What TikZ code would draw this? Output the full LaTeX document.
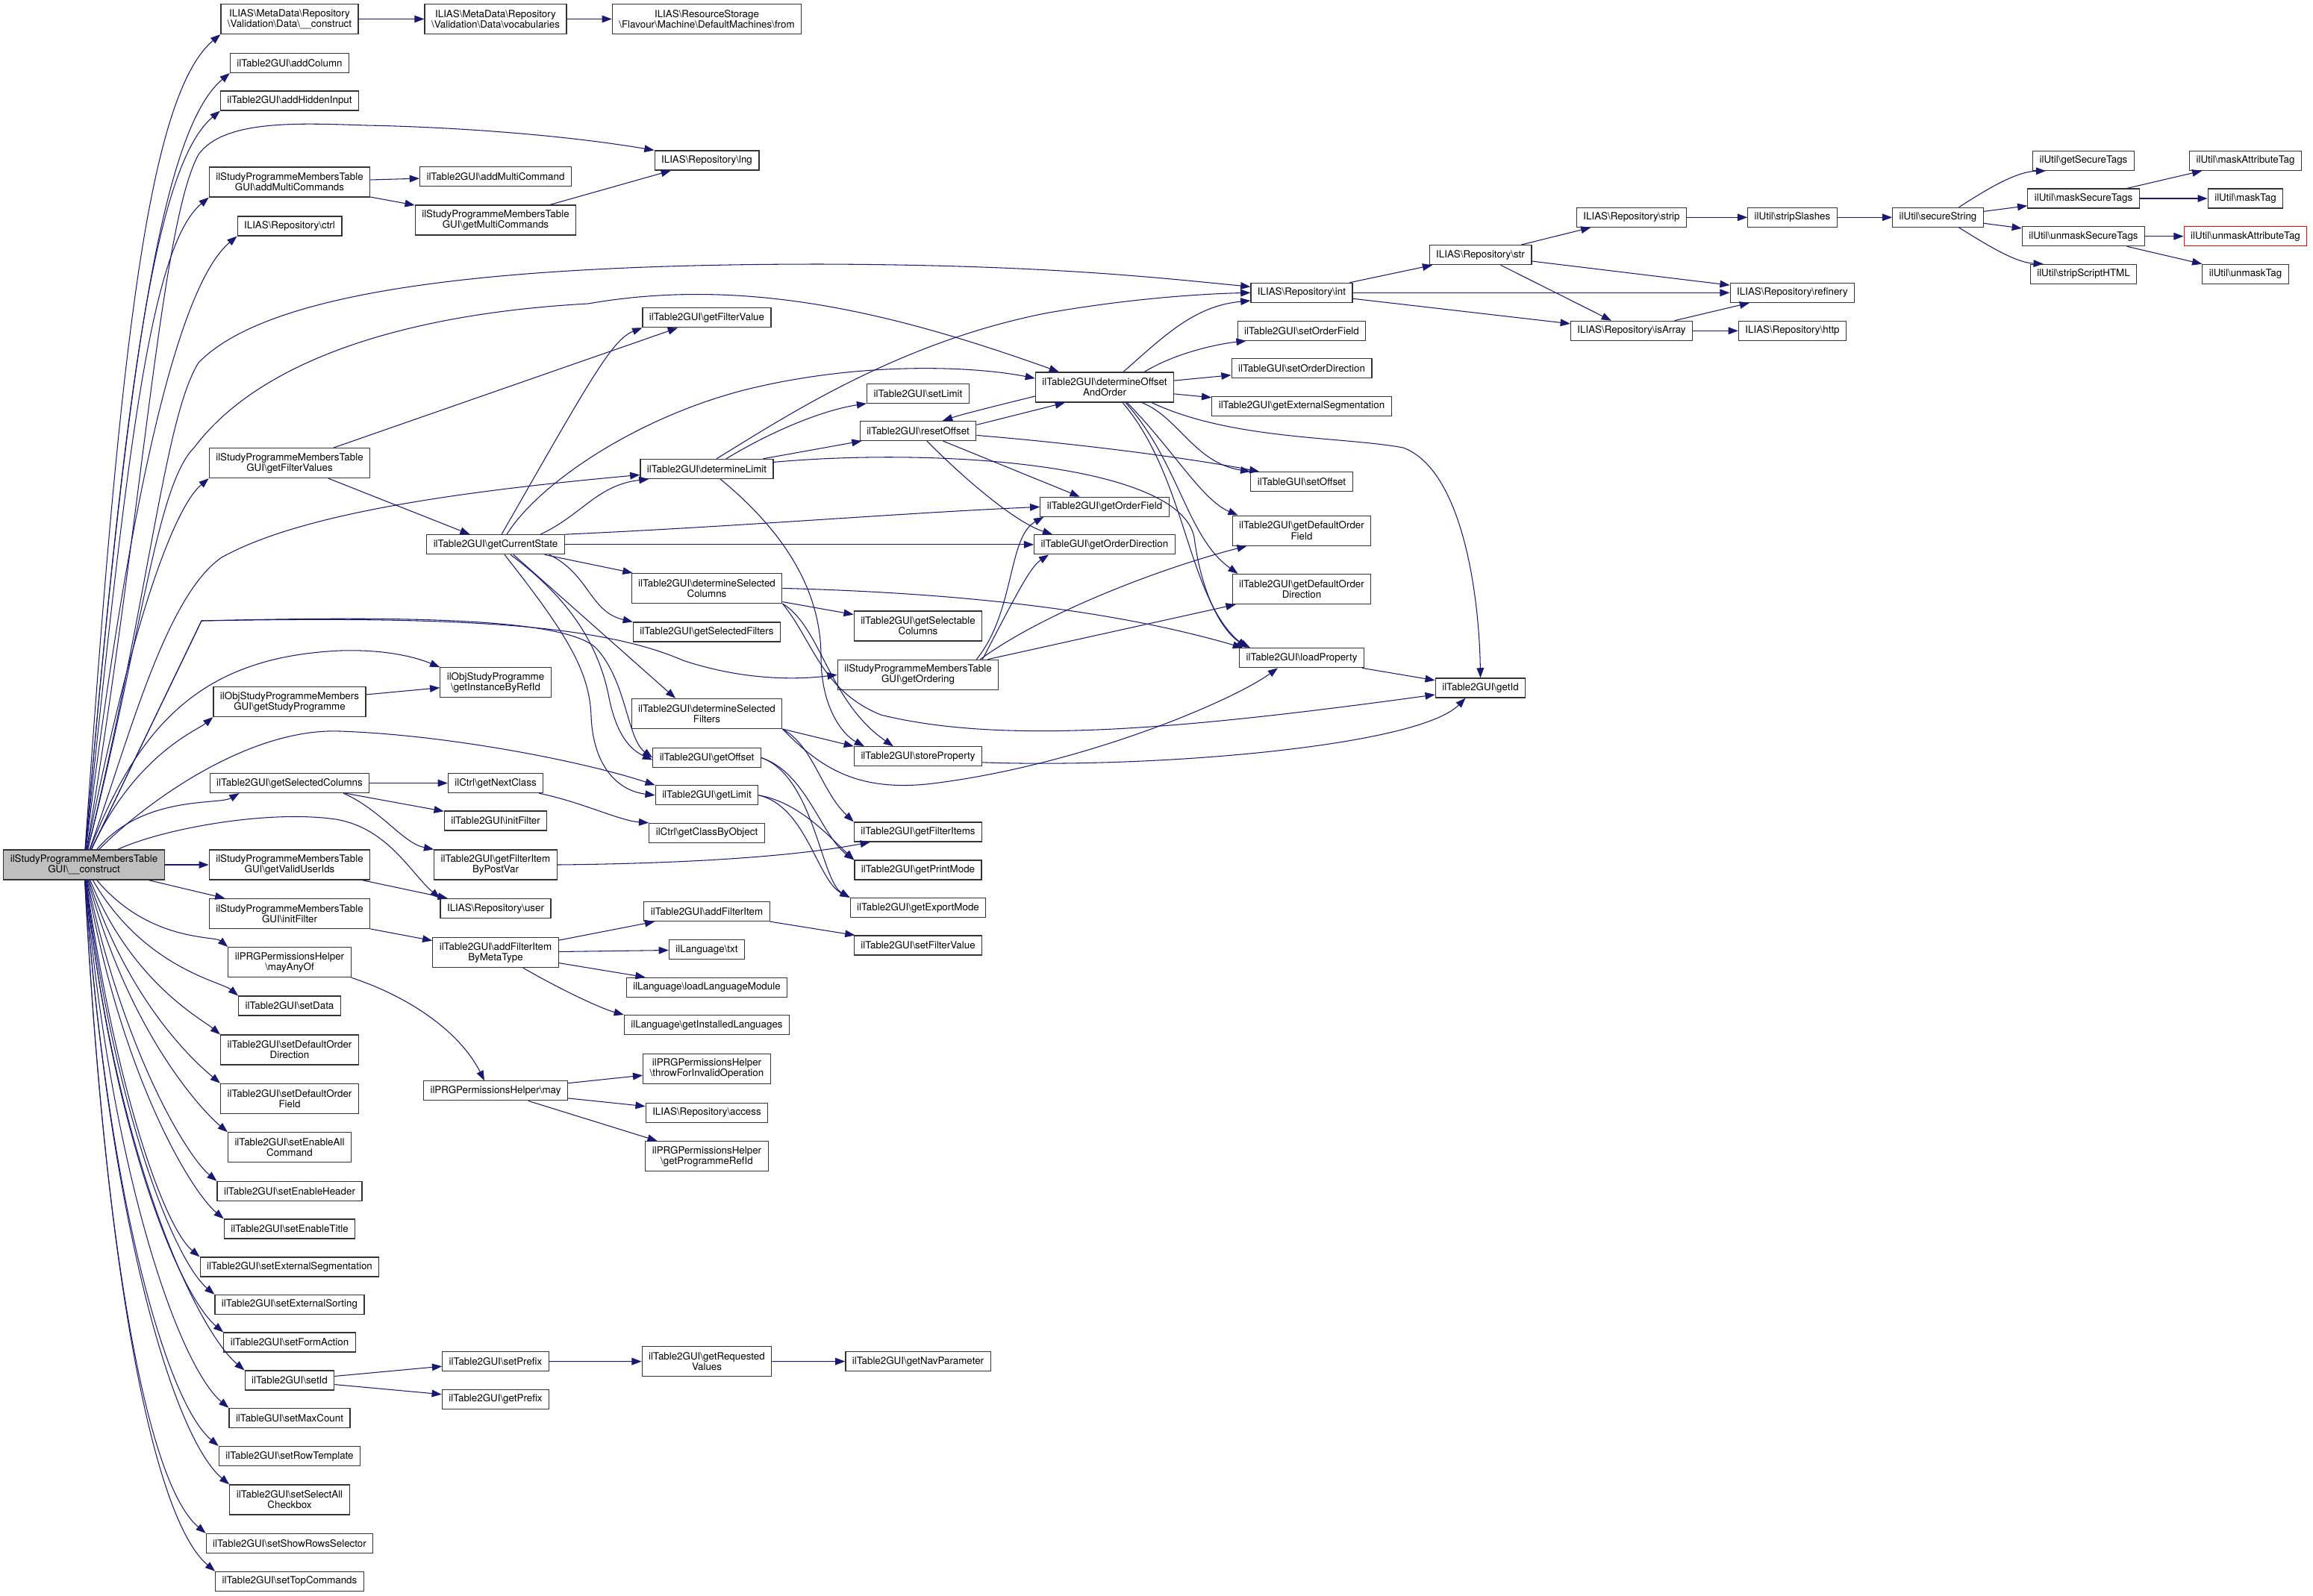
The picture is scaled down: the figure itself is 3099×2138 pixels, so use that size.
\documentclass[tikz,border=0pt]{standalone}
\usepackage{fontspec}
\newfontfamily\heros{TeX Gyre Heros}
\usetikzlibrary{arrows.meta,calc}
\definecolor{edgeblue}{RGB}{25,25,112}
\newcommand{\bsh}{\textbackslash}

\begin{document}
\begin{tikzpicture}[x=0.02cm,y=0.02cm,
      fnode/.style={draw=black!80, line width=0.7pt, fill=white, font=\heros\fontsize{7.6}{8}\selectfont,
        align=center, inner xsep=0.18cm, inner ysep=0.1cm, minimum height=0.52cm},
      fnode2/.style={fnode, minimum height=0.8cm},
      mainnode/.style={fnode2, fill=black!25},
      call/.style={draw=edgeblue, line width=0.6pt, -{Triangle[length=7.5pt,width=5.5pt]}},
      fanup/.style={out=#1, in=-140, out looseness=1.5, in looseness=0.3},
      fandown/.style={out=#1, in=140, out looseness=1.4, in looseness=0.3}]
   \useasboundingbox (0,0) rectangle (3099,-2138);

   \node[mainnode] (main) at (112.5,-1159) {ilStudyProgrammeMembersTable\\GUI\bsh\_\_construct};

   \node[fnode2] (dataConstruct) at (388,-25.5) {ILIAS\bsh{}MetaData\bsh{}Repository\\\bsh{}Validation\bsh{}Data\bsh\_\_construct};
   \node[fnode] (addColumn) at (388,-84.4) {ilTable2GUI\bsh{}addColumn};
   \node[fnode] (addHiddenInput) at (388,-135) {ilTable2GUI\bsh{}addHiddenInput};
   \node[fnode2] (addMultiCommands) at (388,-244) {ilStudyProgrammeMembersTable\\GUI\bsh{}addMultiCommands};
   \node[fnode] (ctrl) at (388,-303) {ILIAS\bsh{}Repository\bsh{}ctrl};
   \node[fnode2] (getFilterValues) at (388,-620.6) {ilStudyProgrammeMembersTable\\GUI\bsh{}getFilterValues};
   \node[fnode2] (getStudyProgramme) at (388,-940.5) {ilObjStudyProgrammeMembers\\GUI\bsh{}getStudyProgramme};
   \node[fnode] (getSelectedColumns) at (388,-1049.5) {ilTable2GUI\bsh{}getSelectedColumns};
   \node[fnode2] (getValidUserIds) at (388,-1159) {ilStudyProgrammeMembersTable\\GUI\bsh{}getValidUserIds};
   \node[fnode2] (spmInitFilter) at (388,-1224.5) {ilStudyProgrammeMembersTable\\GUI\bsh{}initFilter};
   \node[fnode2] (mayAnyOf) at (388,-1289.6) {ilPRGPermissionsHelper\\\bsh{}mayAnyOf};
   \node[fnode] (setData) at (388,-1348) {ilTable2GUI\bsh{}setData};
   \node[fnode2] (setDefaultOrderDirection) at (388,-1407) {ilTable2GUI\bsh{}setDefaultOrder\\Direction};
   \node[fnode2] (setDefaultOrderField) at (388,-1472.3) {ilTable2GUI\bsh{}setDefaultOrder\\Field};
   \node[fnode2] (setEnableAllCommand) at (388,-1537.8) {ilTable2GUI\bsh{}setEnableAll\\Command};
   \node[fnode] (setEnableHeader) at (388,-1596.5) {ilTable2GUI\bsh{}setEnableHeader};
   \node[fnode] (setEnableTitle) at (388,-1647) {ilTable2GUI\bsh{}setEnableTitle};
   \node[fnode] (setExternalSegmentation) at (388,-1698) {ilTable2GUI\bsh{}setExternalSegmentation};
   \node[fnode] (setExternalSorting) at (388,-1748.4) {ilTable2GUI\bsh{}setExternalSorting};
   \node[fnode] (setFormAction) at (388,-1799) {ilTable2GUI\bsh{}setFormAction};
   \node[fnode] (setId) at (388,-1850) {ilTable2GUI\bsh{}setId};
   \node[fnode] (setMaxCount) at (388,-1900.4) {ilTableGUI\bsh{}setMaxCount};
   \node[fnode] (setRowTemplate) at (388,-1951.5) {ilTable2GUI\bsh{}setRowTemplate};
   \node[fnode2] (setSelectAllCheckbox) at (388,-2010) {ilTable2GUI\bsh{}setSelectAll\\Checkbox};
   \node[fnode] (setShowRowsSelector) at (388,-2068.4) {ilTable2GUI\bsh{}setShowRowsSelector};
   \node[fnode] (setTopCommands) at (388,-2119.3) {ilTable2GUI\bsh{}setTopCommands};

   \node[fnode2] (vocabularies) at (664,-25.5) {ILIAS\bsh{}MetaData\bsh{}Repository\\\bsh{}Validation\bsh{}Data\bsh{}vocabularies};
   \node[fnode] (addMultiCommand) at (664,-236.3) {ilTable2GUI\bsh{}addMultiCommand};
   \node[fnode2] (getMultiCommands) at (664,-295) {ilStudyProgrammeMembersTable\\GUI\bsh{}getMultiCommands};
   \node[fnode] (getCurrentState) at (664,-729.8) {ilTable2GUI\bsh{}getCurrentState};
   \node[fnode2] (getInstanceByRefId) at (664,-914.7) {ilObjStudyProgramme\\\bsh{}getInstanceByRefId};
   \node[fnode] (getNextClass) at (664,-1049.5) {ilCtrl\bsh{}getNextClass};
   \node[fnode] (initFilter) at (664,-1100) {ilTable2GUI\bsh{}initFilter};
   \node[fnode2] (getFilterItemByPostVar) at (664,-1159) {ilTable2GUI\bsh{}getFilterItem\\ByPostVar};
   \node[fnode] (user) at (664,-1217.5) {ILIAS\bsh{}Repository\bsh{}user};
   \node[fnode2] (addFilterItemByMetaType) at (664,-1276.6) {ilTable2GUI\bsh{}addFilterItem\\ByMetaType};
   \node[fnode] (may) at (664,-1461.8) {ilPRGPermissionsHelper\bsh{}may};
   \node[fnode] (setPrefix) at (664,-1824.5) {ilTable2GUI\bsh{}setPrefix};
   \node[fnode] (getPrefix) at (664,-1875.3) {ilTable2GUI\bsh{}getPrefix};

   \node[fnode2] (from) at (947,-25.5) {ILIAS\bsh{}ResourceStorage\\\bsh{}Flavour\bsh{}Machine\bsh{}DefaultMachines\bsh{}from};
   \node[fnode] (lng) at (947,-215) {ILIAS\bsh{}Repository\bsh{}lng};
   \node[fnode] (getFilterValue) at (947,-425.8) {ilTable2GUI\bsh{}getFilterValue};
   \node[fnode] (determineLimit) at (947,-628.4) {ilTable2GUI\bsh{}determineLimit};
   \node[fnode2] (determineSelectedColumns) at (947,-788.4) {ilTable2GUI\bsh{}determineSelected\\Columns};
   \node[fnode] (getSelectedFilters) at (947,-847) {ilTable2GUI\bsh{}getSelectedFilters};
   \node[fnode2] (determineSelectedFilters) at (947,-956.4) {ilTable2GUI\bsh{}determineSelected\\Filters};
   \node[fnode] (getOffset) at (947,-1015.5) {ilTable2GUI\bsh{}getOffset};
   \node[fnode] (getLimit) at (947,-1065.8) {ilTable2GUI\bsh{}getLimit};
   \node[fnode] (getClassByObject) at (947,-1116.3) {ilCtrl\bsh{}getClassByObject};
   \node[fnode] (addFilterItem) at (947,-1221.5) {ilTable2GUI\bsh{}addFilterItem};
   \node[fnode] (txt) at (947,-1272.8) {ilLanguage\bsh{}txt};
   \node[fnode] (loadLanguageModule) at (947,-1323.3) {ilLanguage\bsh{}loadLanguageModule};
   \node[fnode] (getInstalledLanguages) at (947,-1373.6) {ilLanguage\bsh{}getInstalledLanguages};
   \node[fnode2] (throwForInvalidOperation) at (947,-1432.2) {ilPRGPermissionsHelper\\\bsh{}throwForInvalidOperation};
   \node[fnode] (access) at (947,-1491.2) {ILIAS\bsh{}Repository\bsh{}access};
   \node[fnode2] (getProgrammeRefId) at (947,-1549.7) {ilPRGPermissionsHelper\\\bsh{}getProgrammeRefId};
   \node[fnode2] (getRequestedValues) at (947,-1824.7) {ilTable2GUI\bsh{}getRequested\\Values};

   \node[fnode] (setLimit) at (1230,-527.2) {ilTable2GUI\bsh{}setLimit};
   \node[fnode] (resetOffset) at (1230,-577.4) {ilTable2GUI\bsh{}resetOffset};
   \node[fnode2] (getSelectableColumns) at (1230,-839) {ilTable2GUI\bsh{}getSelectable\\Columns};
   \node[fnode2] (getOrdering) at (1230,-904.3) {ilStudyProgrammeMembersTable\\GUI\bsh{}getOrdering};
   \node[fnode] (storeProperty) at (1230,-1013.8) {ilTable2GUI\bsh{}storeProperty};
   \node[fnode] (getFilterItems) at (1230,-1115) {ilTable2GUI\bsh{}getFilterItems};
   \node[fnode] (getPrintMode) at (1230,-1166) {ilTable2GUI\bsh{}getPrintMode};
   \node[fnode] (getExportMode) at (1230,-1216.5) {ilTable2GUI\bsh{}getExportMode};
   \node[fnode] (setFilterValue) at (1230,-1267) {ilTable2GUI\bsh{}setFilterValue};
   \node[fnode] (getNavParameter) at (1230,-1824.5) {ilTable2GUI\bsh{}getNavParameter};

   \node[fnode2] (determineOffsetAndOrder) at (1480,-519) {ilTable2GUI\bsh{}determineOffset\\AndOrder};
   \node[fnode] (getOrderField) at (1480,-679.3) {ilTable2GUI\bsh{}getOrderField};
   \node[fnode] (getOrderDirection) at (1480,-729.8) {ilTableGUI\bsh{}getOrderDirection};

   \node[fnode] (int) at (1744,-392.3) {ILIAS\bsh{}Repository\bsh{}int};
   \node[fnode] (setOrderField) at (1744,-443.2) {ilTable2GUI\bsh{}setOrderField};
   \node[fnode] (setOrderDirection) at (1744,-493.7) {ilTableGUI\bsh{}setOrderDirection};
   \node[fnode] (getExternalSegmentation) at (1744,-544.3) {ilTable2GUI\bsh{}getExternalSegmentation};
   \node[fnode] (setOffset) at (1744,-645.7) {ilTableGUI\bsh{}setOffset};
   \node[fnode2] (getDefaultOrderField) at (1744,-711.1) {ilTable2GUI\bsh{}getDefaultOrder\\Field};
   \node[fnode2] (getDefaultOrderDirection) at (1744,-789.5) {ilTable2GUI\bsh{}getDefaultOrder\\Direction};
   \node[fnode] (loadProperty) at (1744,-881.7) {ilTable2GUI\bsh{}loadProperty};

   \node[fnode] (str) at (1983.5,-341.7) {ILIAS\bsh{}Repository\bsh{}str};
   \node[fnode] (getId) at (1983.5,-922) {ilTable2GUI\bsh{}getId};
   \node[fnode] (strip) at (2186,-291.3) {ILIAS\bsh{}Repository\bsh{}strip};
   \node[fnode] (isArray) at (2186,-443.3) {ILIAS\bsh{}Repository\bsh{}isArray};
   \node[fnode] (stripSlashes) at (2401.5,-291.3) {ilUtil\bsh{}stripSlashes};
   \node[fnode] (refinery) at (2401.5,-392.3) {ILIAS\bsh{}Repository\bsh{}refinery};
   \node[fnode] (http) at (2401.5,-443.3) {ILIAS\bsh{}Repository\bsh{}http};
   \node[fnode] (secureString) at (2596.5,-291.3) {ilUtil\bsh{}secureString};
   \node[fnode] (getSecureTags) at (2791.5,-215.3) {ilUtil\bsh{}getSecureTags};
   \node[fnode] (maskSecureTags) at (2791.5,-266) {ilUtil\bsh{}maskSecureTags};
   \node[fnode] (unmaskSecureTags) at (2791.5,-316.7) {ilUtil\bsh{}unmaskSecureTags};
   \node[fnode] (stripScriptHTML) at (2791.5,-367.3) {ilUtil\bsh{}stripScriptHTML};
   \node[fnode] (maskAttributeTag) at (3008.5,-215.3) {ilUtil\bsh{}maskAttributeTag};
   \node[fnode] (maskTag) at (3008.5,-266) {ilUtil\bsh{}maskTag};
   \node[fnode, draw=red] (unmaskAttributeTag) at (3008.5,-316.7) {ilUtil\bsh{}unmaskAttributeTag};
   \node[fnode] (unmaskTag) at (3008.5,-367.3) {ilUtil\bsh{}unmaskTag};

   \foreach \f/\a in {dataConstruct/86,addColumn/85,addHiddenInput/85,addMultiCommands/84,ctrl/83,getFilterValues/79,getStudyProgramme/65}
      \draw[call] (main) to[fanup=\a] (\f.south west);
   \draw[call] (main) to[out=50, in=-150, out looseness=1.2, in looseness=0.4] ($(getSelectedColumns.south west)+(40,0)$);
   \foreach \f/\a in {mayAnyOf/-50,setData/-60,setDefaultOrderDirection/-68,setDefaultOrderField/-72,setEnableAllCommand/-75,setEnableHeader/-78,setEnableTitle/-80,setExternalSegmentation/-82,setExternalSorting/-83,setFormAction/-84,setId/-84,setMaxCount/-85,setRowTemplate/-86,setSelectAllCheckbox/-86,setShowRowsSelector/-87,setTopCommands/-87}
      \draw[call] (main) to[fandown=\a] (\f.north west);
   \draw[call] (main) -- (getValidUserIds);
   \draw[call] (main) -- (spmInitFilter);
   \draw[call] (main) .. controls (190,-700) and (215,-300) .. (266,-207) .. controls (300,-160) and (400,-165) .. (491,-168) .. controls (600,-170) and (750,-180) .. (lng.north west);
   \draw[call] (main) .. controls (200,-800) and (220,-560) .. (266,-486) .. controls (350,-400) and (600,-354) .. (1100,-354) .. controls (1400,-355) and (1550,-372) .. ($(int.west)+(0,8)$);
   \draw[call] (main) .. controls (190,-850) and (210,-650) .. (260,-600) .. controls (350,-480) and (550,-420) .. (788,-407) .. controls (1000,-370) and (1200,-420) .. ($(determineOffsetAndOrder.north west)+(32,0)$);
   \draw[call] (main) .. controls (170,-1000) and (220,-800) .. (297,-747) .. controls (400,-690) and (600,-660) .. ($(determineLimit.west)+(0,-8)$);
   \draw[call] (main) .. controls (190,-960) and (280,-880) .. (456,-872) .. controls (520,-870) and (560,-882) .. (getInstanceByRefId.north west);
   \draw[call] (main) -- (270,-832) .. controls (520,-826) and (760,-826) .. (800,-870) .. controls (840,-915) and (840,-990) .. (getOffset.west);
   \draw[call] (main) -- (270,-832) .. controls (600,-826) and (800,-835) .. (915,-885) .. controls (990,-910) and (1060,-912) .. (getOrdering.west);
   \draw[call] (main) .. controls (190,-1080) and (330,-975) .. (456,-980) .. controls (600,-985) and (780,-1020) .. (getLimit.north west);
   \draw[call] (main) .. controls (220,-1110) and (360,-1085) .. (450,-1098) .. controls (520,-1110) and (550,-1170) .. (user.north west);

   \draw[call] (dataConstruct) -- (vocabularies);
   \draw[call] (vocabularies) -- (from);
   \draw[call] (addMultiCommands) -- (addMultiCommand);
   \draw[call] (addMultiCommands) -- (getMultiCommands);
   \draw[call] (getMultiCommands) -- (lng);
   \draw[call] (getFilterValues) -- (getFilterValue);
   \draw[call] (getFilterValues) -- (getCurrentState);
   \draw[call] (getStudyProgramme) -- (getInstanceByRefId);
   \draw[call] (getSelectedColumns) -- (getNextClass);
   \draw[call] (getSelectedColumns) -- (initFilter);
   \draw[call] ($(getSelectedColumns.south)+(72,0)$) .. controls (510,-1085) and (540,-1130) .. (getFilterItemByPostVar.north west);
   \draw[call] ($(getNextClass.south)+(58,0)$) .. controls (780,-1075) and (830,-1100) .. (getClassByObject.north west);
   \draw[call] (getFilterItemByPostVar.east) .. controls (950,-1157) and (1080,-1145) .. ($(getFilterItems.south west)+(22,0)$);
   \draw[call] (getValidUserIds) -- (user);
   \draw[call] (spmInitFilter) -- (addFilterItemByMetaType);
   \draw[call] (addFilterItemByMetaType) -- (addFilterItem);
   \draw[call] (addFilterItemByMetaType) -- (txt);
   \draw[call] (addFilterItemByMetaType) -- (loadLanguageModule);
   \draw[call] ($(addFilterItemByMetaType.south)+(37,0)$) .. controls (740,-1320) and (800,-1350) .. (getInstalledLanguages.north west);
   \draw[call] (addFilterItem) -- (setFilterValue);
   \draw[call] (mayAnyOf.south east) .. controls (560,-1340) and (620,-1390) .. ($(may.north)+(-15,0)$);
   \draw[call] (may) -- (throwForInvalidOperation);
   \draw[call] (may) -- (access);
   \draw[call] (may) -- (getProgrammeRefId);
   \draw[call] (setId) -- (setPrefix);
   \draw[call] (setId) -- (getPrefix);
   \draw[call] (setPrefix) -- (getRequestedValues);
   \draw[call] (getRequestedValues) -- (getNavParameter);

   \draw[call] ($(getCurrentState.north)+(8,0)$) .. controls (790,-510) and (820,-455) .. (getFilterValue.south west);
   \draw[call] ($(getCurrentState.north)+(15,0)$) .. controls (720,-650) and (850,-560) .. (1000,-522) .. controls (1150,-485) and (1300,-490) .. ($(determineOffsetAndOrder.west)+(0,12)$);
   \draw[call] ($(getCurrentState.north)+(60,0)$) .. controls (780,-690) and (800,-650) .. ($(determineLimit.south west)+(12,0)$);
   \draw[call] (getCurrentState.north east) .. controls (1000,-705) and (1200,-688) .. (getOrderField.west);
   \draw[call] (getCurrentState) -- (getOrderDirection);
   \draw[call] (getCurrentState) -- (determineSelectedColumns);
   \draw[call] ($(getCurrentState.south)+(72,0)$) .. controls (790,-770) and (790,-820) .. (getSelectedFilters.north west);
   \draw[call] ($(getCurrentState.south)+(12,0)$) .. controls (760,-850) and (790,-900) .. (792,-960) .. controls (795,-1030) and (830,-1060) .. (getLimit.west);
   \draw[call] ($(getCurrentState.south)+(20,0)$) .. controls (760,-800) and (800,-860) .. (815,-930) .. controls (825,-985) and (845,-1005) .. ($(getOffset.west)+(0,-3)$);
   \draw[call] ($(getCurrentState.south)+(24,0)$) -- ($(determineSelectedFilters.north)+(-42,0)$);

   \draw[call] ($(determineLimit.north)+(13,0)$) .. controls (1050,-560) and (1200,-460) .. (1400,-420) .. controls (1500,-402) and (1600,-394) .. (int.west);
   \draw[call] ($(determineLimit.north)+(26,0)$) .. controls (1030,-580) and (1100,-550) .. (setLimit.south west);
   \draw[call] (determineLimit) -- (resetOffset);
   \draw[call] ($(determineLimit.east)+(0,9)$) .. controls (1250,-600) and (1580,-620) .. (1600,-720) .. controls (1610,-800) and (1640,-850) .. ($(loadProperty.north west)+(15,0)$);
   \draw[call] ($(determineLimit.south)+(18,0)$) .. controls (1060,-720) and (1100,-800) .. (1100,-880) .. controls (1100,-950) and (1130,-985) .. ($(storeProperty.north west)+(14,0)$);

   \draw[call] (determineSelectedColumns) -- (getSelectableColumns);
   \draw[call] (determineSelectedColumns.east) .. controls (1300,-795) and (1500,-820) .. ($(loadProperty.north west)+(5,0)$);
   \draw[call] (determineSelectedColumns.south east) .. controls (1100,-840) and (1110,-940) .. ($(storeProperty.north west)+(53,0)$);
   \draw[call] (determineSelectedColumns.south east) .. controls (1090,-860) and (1100,-925) .. (1180,-958) .. controls (1350,-1000) and (1600,-975) .. ($(getId.west)+(0,-9)$);
   \draw[call] (determineSelectedFilters.south east) -- (storeProperty.north west);
   \draw[call] (determineSelectedFilters.south east) .. controls (1090,-1000) and (1100,-1060) .. (getFilterItems.north west);
   \draw[call] (determineSelectedFilters.south east) .. controls (1100,-1030) and (1150,-1062) .. (1250,-1050) .. controls (1450,-1025) and (1650,-940) .. ($(loadProperty.south)+(-32,0)$);

   \draw[call] (getOffset.east) .. controls (1080,-1035) and (1100,-1120) .. (getPrintMode.north west);
   \draw[call] (getOffset.east) .. controls (1090,-1040) and (1100,-1180) .. (getExportMode.north west);
   \draw[call] (getLimit.east) .. controls (1070,-1075) and (1110,-1120) .. (getPrintMode.north west);
   \draw[call] (getLimit.east) .. controls (1080,-1080) and (1095,-1180) .. (getExportMode.north west);

   \draw[call] ($(resetOffset.east)+(0,8)$) -- ($(determineOffsetAndOrder.south west)+(40,0)$);
   \draw[call] ($(determineOffsetAndOrder.west)+(0,-12)$) .. controls (1330,-545) and (1290,-555) .. ($(resetOffset.north)+(33,0)$);
   \draw[call] ($(resetOffset.east)+(0,-6)$) .. controls (1450,-595) and (1600,-615) .. ($(setOffset.north west)+(12,0)$);
   \draw[call] (resetOffset) -- (getOrderField);
   \draw[call] ($(resetOffset.south)+(12,0)$) .. controls (1290,-640) and (1360,-700) .. ($(getOrderDirection.north west)+(25,0)$);

   \draw[call] ($(determineOffsetAndOrder.north)+(25,0)$) .. controls (1560,-450) and (1600,-410) .. ($(int.south west)+(0,3)$);
   \draw[call] ($(determineOffsetAndOrder.north east)+(-40,0)$) .. controls (1580,-470) and (1640,-460) .. ($(setOrderField.south west)+(12,0)$);
   \draw[call] (determineOffsetAndOrder) -- (setOrderDirection);
   \draw[call] (determineOffsetAndOrder) -- (getExternalSegmentation);
   \draw[call] ($(determineOffsetAndOrder.south)+(50,0)$) .. controls (1580,-560) and (1600,-620) .. (setOffset.north west);
   \draw[call] ($(determineOffsetAndOrder.south)+(30,0)$) .. controls (1570,-600) and (1610,-670) .. ($(getDefaultOrderField.north west)+(8,0)$);
   \draw[call] ($(determineOffsetAndOrder.south)+(28,0)$) .. controls (1580,-620) and (1590,-720) .. ($(getDefaultOrderDirection.north west)+(8,0)$);
   \draw[call] ($(determineOffsetAndOrder.south)+(24,0)$) .. controls (1590,-640) and (1590,-800) .. ($(loadProperty.north west)+(10,0)$);
   \draw[call] ($(determineOffsetAndOrder.south east)+(-30,0)$) .. controls (1650,-590) and (1800,-585) .. (1880,-600) .. controls (1960,-630) and (1982,-800) .. (getId.north);

   \draw[call] ($(getOrdering.north east)+(-30,0)$) .. controls (1360,-820) and (1350,-720) .. ($(getOrderField.south west)+(5,0)$);
   \draw[call] ($(getOrdering.north east)+(-22,0)$) .. controls (1360,-800) and (1380,-760) .. ($(getOrderDirection.south west)+(20,0)$);
   \draw[call] ($(getOrdering.north east)+(-25,0)$) .. controls (1400,-820) and (1560,-760) .. ($(getDefaultOrderField.south west)+(20,0)$);
   \draw[call] ($(getOrdering.north east)+(-15,0)$) -- ($(getDefaultOrderDirection.south west)+(5,0)$);
   \draw[call] (loadProperty) -- (getId);
   \draw[call] ($(storeProperty.east)+(0,-8)$) .. controls (1550,-1030) and (1900,-1000) .. ($(getId.south)+(-20,0)$);

   \draw[call] (int) -- (str);
   \draw[call] (int) -- (refinery);
   \draw[call] (int) -- (isArray);
   \draw[call] (str) -- (strip);
   \draw[call] (str) -- (refinery);
   \draw[call] (str) -- (isArray);
   \draw[call] (strip) -- (stripSlashes);
   \draw[call] (stripSlashes) -- (secureString);
   \draw[call] (isArray) -- (refinery);
   \draw[call] (isArray) -- (http);
   \draw[call] ($(secureString.north)+(28,0)$) .. controls (2660,-255) and (2700,-230) .. ($(getSecureTags.south west)+(18,0)$);
   \draw[call] (secureString) -- (maskSecureTags);
   \draw[call] (secureString) -- (unmaskSecureTags);
   \draw[call] ($(secureString.south)+(28,0)$) .. controls (2660,-327) and (2700,-352) .. ($(stripScriptHTML.north west)+(18,0)$);
   \draw[call] (maskSecureTags) -- (maskAttributeTag);
   \draw[call] (maskSecureTags) -- (maskTag);
   \draw[call] (unmaskSecureTags) -- (unmaskAttributeTag);
   \draw[call] (unmaskSecureTags) -- (unmaskTag);
\end{tikzpicture}
\end{document}
